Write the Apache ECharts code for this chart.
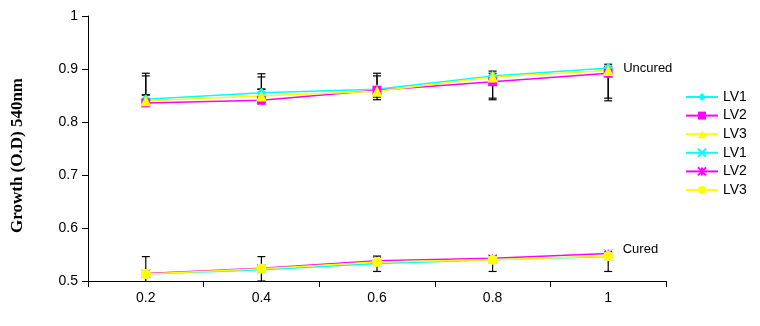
<!DOCTYPE html>
<html>
<head>
<meta charset="utf-8">
<script src="https://cdn.jsdelivr.net/npm/echarts@6/dist/echarts.min.js"></script>
<style>
  html, body { margin: 0; padding: 0; background: #fff; }
  #chart { width: 760px; height: 326px; }
</style>
</head>
<body>
<div id="chart"></div>
<script>
// x categories
const categories = ["0.2", "0.4", "0.6", "0.8", "1"];

// uncured group
const uncuredLV1 = [0.843, 0.855, 0.862, 0.887, 0.902];
const uncuredLV2 = [0.836, 0.841, 0.860, 0.876, 0.892];
const uncuredLV3 = [0.840, 0.849, 0.858, 0.885, 0.897];

// cured group
const curedLV1 = [0.513, 0.521, 0.533, 0.540, 0.546];
const curedLV2 = [0.514, 0.524, 0.538, 0.543, 0.552];
const curedLV3 = [0.513, 0.523, 0.536, 0.540, 0.547];

// error bars [low, high] per category
const errUncuredA = [[0.851, 0.892], [0.862, 0.891], [0.842, 0.892], [0.842, 0.896], [0.840, 0.909]];
const errUncuredB = [[0.851, 0.887], [0.862, 0.885], [0.847, 0.887], [0.845, 0.892], [0.845, 0.905]];
const errCured = [[0.480, 0.546], [0.500, 0.546], [0.518, 0.547], [0.518, 0.548], [0.518, 0.555]];

const yTicks = [0.5, 0.6, 0.7, 0.8, 0.9, 1];

const crossPath = "path://M0,0L10,10M10,0L0,10";
const starPath = "path://M0,0L10,10M10,0L0,10M5,0L5,10";

const chart = echarts.init(document.getElementById("chart"));

function lineSeries(name, data, color, symbol, size, labelText, labelOffset) {
  const last = data.length - 1;
  const stroked = symbol.indexOf("path://") === 0;
  return {
    name: name,
    type: "line",
    z: 3,
    data: data.map((v, i) => {
      if (labelText && i === last) {
        return {
          value: v,
          label: {
            show: true,
            position: "right",
            distance: 10,
            offset: labelOffset,
            formatter: labelText,
            color: "#000",
            fontFamily: "Liberation Sans, Arial",
            fontSize: 13,
          },
        };
      }
      return v;
    }),
    symbol: symbol,
    symbolSize: size,
    showAllSymbol: true,
    lineStyle: { color: color, width: 1.5 },
    itemStyle: stroked
      ? { color: "rgba(0,0,0,0)", borderColor: color, borderWidth: 1 }
      : { color: color, borderWidth: 0 },
    emphasis: { disabled: true },
    animation: false,
  };
}

function errorSeries(ranges) {
  return {
    type: "custom",
    z: 2,
    clip: true,
    silent: true,
    animation: false,
    data: ranges.map((r, i) => [i, r[0], r[1]]),
    encode: { x: 0, y: [1, 2] },
    renderItem: (params, api) => {
      const lo = api.coord([api.value(0), api.value(1)]);
      const hi = api.coord([api.value(0), api.value(2)]);
      const w = 4;
      const style = { stroke: "#000", lineWidth: 1.2 };
      return {
        type: "group",
        children: [
          { type: "line", shape: { x1: hi[0], y1: hi[1], x2: lo[0], y2: lo[1] }, style: style },
          { type: "line", shape: { x1: hi[0] - w, y1: hi[1], x2: hi[0] + w, y2: hi[1] }, style: style },
          { type: "line", shape: { x1: lo[0] - w, y1: lo[1], x2: lo[0] + w, y2: lo[1] }, style: style },
        ],
      };
    },
  };
}

const option = {
  backgroundColor: "#fff",
  animation: false,
  grid: { left: 88, right: 94, top: 16, bottom: 45 },
  legend: {
    orient: "vertical",
    left: 685,
    top: 90,
    padding: 0,
    itemWidth: 32,
    itemHeight: 10,
    itemGap: 4.6,
    formatter: (name) => name.trim(),
    textStyle: { color: "#000", fontFamily: "Liberation Sans, Arial", fontSize: 14 },
    data: ["LV1", "LV2", "LV3", "LV1 ", "LV2 ", "LV3 "],
  },
  xAxis: {
    type: "category",
    data: categories,
    boundaryGap: true,
    axisLine: { lineStyle: { color: "#000", width: 1 } },
    axisTick: { show: true, length: 6, lineStyle: { color: "#000" } },
    axisLabel: { color: "#000", fontFamily: "Liberation Sans, Arial", fontSize: 14, margin: 10 },
  },
  yAxis: {
    type: "value",
    min: yTicks[0],
    max: yTicks[yTicks.length - 1],
    interval: 0.1,
    name: "Growth (O.D) 540nm",
    nameLocation: "middle",
    nameGap: 62,
    nameTextStyle: {
      color: "#000",
      fontFamily: "Liberation Serif, Times New Roman",
      fontWeight: "bold",
      fontSize: 17,
      padding: [0, 14, 0, 0],
    },
    splitLine: { show: false },
    axisLine: { show: true, lineStyle: { color: "#000", width: 1 } },
    axisTick: { show: true, length: 6, lineStyle: { color: "#000" } },
    axisLabel: {
      color: "#000",
      fontFamily: "Liberation Sans, Arial",
      fontSize: 14,
      margin: 10,
      formatter: (v) => (v === 1 ? "1" : v.toFixed(1)),
    },
  },
  series: [
    errorSeries(errUncuredA),
    errorSeries(errUncuredB),
    errorSeries(errCured),
    lineSeries("LV1", uncuredLV1, "#00FFFF", "diamond", 10, "Uncured", [0, 0]),
    lineSeries("LV2", uncuredLV2, "#FF00FF", "rect", 9),
    lineSeries("LV3", uncuredLV3, "#FFFF00", "triangle", 11),
    lineSeries("LV1 ", curedLV1, "#00FFFF", crossPath, 8),
    lineSeries("LV2 ", curedLV2, "#FF00FF", starPath, 8, "Cured", [0, -4]),
    lineSeries("LV3 ", curedLV3, "#FFFF00", "circle", 10),
  ],
};

chart.setOption(option);
</script>
</body>
</html>
